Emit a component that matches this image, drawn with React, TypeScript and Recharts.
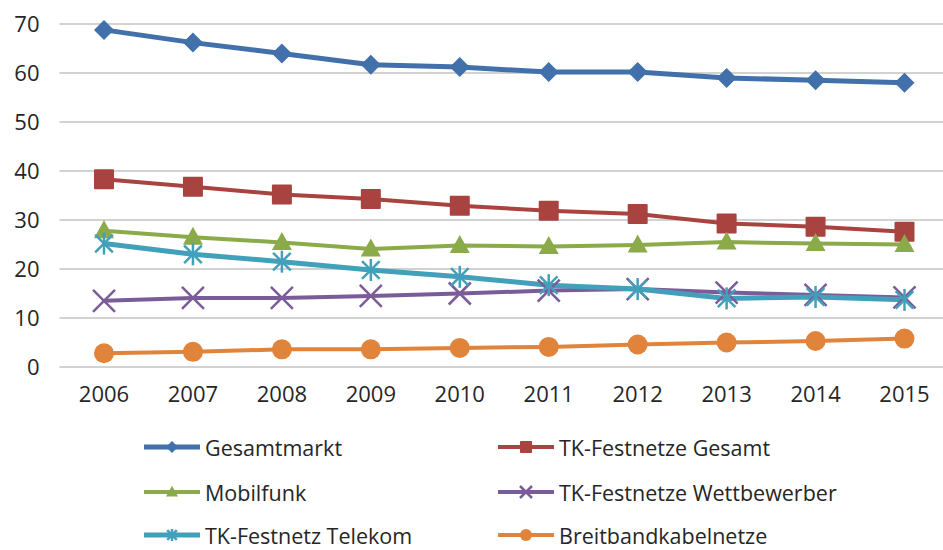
import React from 'react';
import { LineChart, Line, XAxis, YAxis, CartesianGrid, Legend } from 'recharts';

const years = ['2006', '2007', '2008', '2009', '2010', '2011', '2012', '2013', '2014', '2015'];
const gesamtmarkt = [68.8, 66.2, 64.0, 61.7, 61.2, 60.2, 60.2, 59.0, 58.5, 58.0];
const festnetzeGesamt = [38.3, 36.8, 35.2, 34.3, 32.9, 31.9, 31.2, 29.3, 28.6, 27.6];
const mobilfunk = [27.8, 26.5, 25.4, 24.1, 24.8, 24.6, 24.9, 25.5, 25.2, 25.0];
const wettbewerber = [13.5, 14.1, 14.1, 14.5, 15.0, 15.6, 15.9, 15.2, 14.7, 14.2];
const telekom = [25.2, 23.0, 21.5, 19.8, 18.4, 16.7, 15.9, 14.0, 14.3, 13.7];
const breitband = [2.8, 3.1, 3.6, 3.6, 3.9, 4.1, 4.6, 5.0, 5.3, 5.8];
const yTicks = [0, 10, 20, 30, 40, 50, 60, 70];

const data = years.map((year, i) => ({
  year,
  gesamtmarkt: gesamtmarkt[i],
  festnetzeGesamt: festnetzeGesamt[i],
  mobilfunk: mobilfunk[i],
  wettbewerber: wettbewerber[i],
  telekom: telekom[i],
  breitband: breitband[i],
}));

const FONT = '"Open Sans", "DejaVu Sans", sans-serif';

type Shape = 'diamond' | 'square' | 'triangle' | 'x' | 'star' | 'circle';

const series: { key: string; name: string; color: string; shape: Shape; width: number }[] = [
  { key: 'gesamtmarkt', name: 'Gesamtmarkt', color: '#4170AA', shape: 'diamond', width: 5 },
  { key: 'festnetzeGesamt', name: 'TK-Festnetze Gesamt', color: '#A9433F', shape: 'square', width: 4 },
  { key: 'mobilfunk', name: 'Mobilfunk', color: '#8BAA4A', shape: 'triangle', width: 4 },
  { key: 'wettbewerber', name: 'TK-Festnetze Wettbewerber', color: '#7A5C99', shape: 'x', width: 4 },
  { key: 'telekom', name: 'TK-Festnetz Telekom', color: '#42A0BB', shape: 'star', width: 5 },
  { key: 'breitband', name: 'Breitbandkabelnetze', color: '#E0833B', shape: 'circle', width: 4 },
];

function marker(shape: Shape, color: string, cx: number, cy: number, r: number, key?: string | number) {
  switch (shape) {
    case 'diamond':
      return <path key={key} d={`M${cx},${cy - r}L${cx + r},${cy}L${cx},${cy + r}L${cx - r},${cy}Z`} fill={color} />;
    case 'square':
      return <rect key={key} x={cx - r} y={cy - r} width={2 * r} height={2 * r} fill={color} rx={1} />;
    case 'triangle':
      return <path key={key} d={`M${cx},${cy - r * 1.05}L${cx + r},${cy + r * 0.75}L${cx - r},${cy + r * 0.75}Z`} fill={color} />;
    case 'circle':
      return <circle key={key} cx={cx} cy={cy} r={r} fill={color} />;
    case 'x':
      return (
        <g key={key} stroke={color} strokeWidth={2.5}>
          <line x1={cx - r} y1={cy - r} x2={cx + r} y2={cy + r} />
          <line x1={cx - r} y1={cy + r} x2={cx + r} y2={cy - r} />
        </g>
      );
    case 'star':
      return (
        <g key={key} stroke={color} strokeWidth={2.5}>
          <line x1={cx - r * 0.8} y1={cy - r * 0.8} x2={cx + r * 0.8} y2={cy + r * 0.8} />
          <line x1={cx - r * 0.8} y1={cy + r * 0.8} x2={cx + r * 0.8} y2={cy - r * 0.8} />
          <line x1={cx} y1={cy - r} x2={cx} y2={cy + r} />
        </g>
      );
  }
}

const legendPos = [
  { x: 143, y: 40 },
  { x: 497, y: 40 },
  { x: 143, y: 85 },
  { x: 497, y: 85 },
  { x: 143, y: 128 },
  { x: 497, y: 128 },
];

const renderLegend = () => (
  <div style={{ position: 'relative', width: 960, height: 143 }}>
    {series.map((s, i) => (
      <div
        key={s.key}
        style={{
          position: 'absolute',
          left: legendPos[i].x,
          top: legendPos[i].y - 14,
          height: 28,
          display: 'flex',
          alignItems: 'center',
          fontFamily: FONT,
          fontSize: 21.5,
          color: '#262626',
          whiteSpace: 'nowrap',
        }}
      >
        <svg width={60} height={28} style={{ marginRight: 2 }}>
          <line x1={1} y1={14} x2={57} y2={14} stroke={s.color} strokeWidth={s.width} />
          {marker(s.shape, s.color, 29, 14, 6)}
        </svg>
        <span>{s.name}</span>
      </div>
    ))}
  </div>
);

export default function App() {
  return (
    <div style={{ position: 'absolute', left: 0, top: 0, width: 943, height: 550, overflow: 'hidden', background: '#fff' }}>
      <LineChart width={960} height={550} data={data} margin={{ top: 24, right: 11, bottom: 0, left: 9.5 }}>
        <CartesianGrid vertical={false} stroke="#A6A6A6" strokeWidth={1.2} />
        <XAxis
          dataKey="year"
          axisLine={false}
          tickLine={false}
          tickSize={0}
          tickMargin={19}
          height={40}
          padding={{ left: 44.5, right: 44.5 }}
          tick={{ fontSize: 22, fontFamily: FONT, fill: '#262626' }}
        />
        <YAxis
          domain={[0, 70]}
          ticks={yTicks}
          axisLine={false}
          tickLine={false}
          tickSize={0}
          tickMargin={20}
          width={50}
          tick={{ fontSize: 22, fontFamily: FONT, fill: '#262626' }}
        />
        <Legend verticalAlign="bottom" height={143} wrapperStyle={{ left: 0, width: 960 }} content={renderLegend} />
        {series.map((s) => (
          <Line
            key={s.key}
            type="linear"
            dataKey={s.key}
            name={s.name}
            stroke={s.color}
            strokeWidth={s.width}
            isAnimationActive={false}
            dot={(p: any) => marker(s.shape, s.color, p.cx, p.cy, s.shape === 'x' || s.shape === 'star' ? 11 : 10, p.index)}
            activeDot={false}
          />
        ))}
      </LineChart>
    </div>
  );
}
